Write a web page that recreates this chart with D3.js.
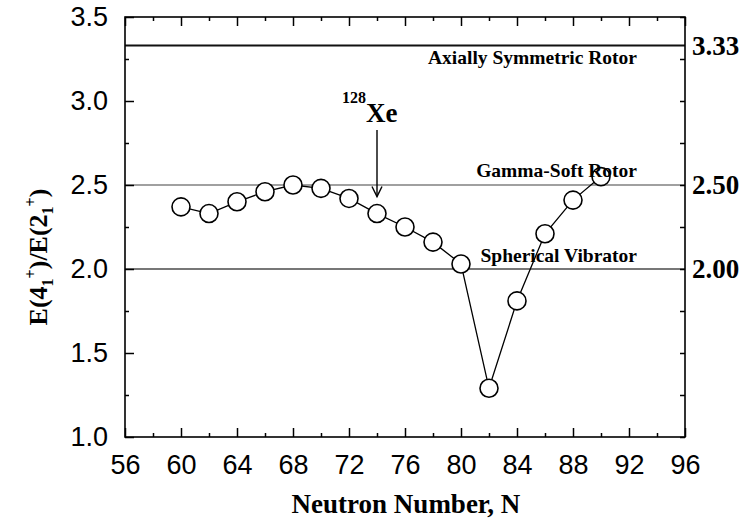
<!DOCTYPE html>
<html>
<head>
<meta charset="utf-8">
<script src="https://cdn.jsdelivr.net/npm/d3@7"></script>
<style>
  html, body { margin: 0; padding: 0; background: #fff; }
  svg { display: block; }
</style>
</head>
<body>
<svg id="chart" width="755" height="522"></svg>
<script>
// R(4/2) energy ratios versus neutron number
const neutronN = [60, 62, 64, 66, 68, 70, 72, 74, 76, 78, 80, 82, 84, 86, 88, 90];
const ratioR42 = [2.37, 2.33, 2.40, 2.46, 2.50, 2.48, 2.42, 2.33, 2.25, 2.16, 2.03, 1.29, 1.81, 2.21, 2.41, 2.55];

// axis ticks
const xMajorTicks = [56, 60, 64, 68, 72, 76, 80, 84, 88, 92, 96];
const xMinorTicks = [58, 62, 66, 70, 74, 78, 82, 86, 90, 94];
const yMajorTicks = [1.0, 1.5, 2.0, 2.5, 3.0, 3.5];
const yMinorTicks = [1.25, 1.75, 2.25, 2.75, 3.25];

// geometric limits of the collective model
const limitValues = [3.33, 2.50, 2.00];
const limitNames = ["Axially Symmetric Rotor", "Gamma-Soft Rotor", "Spherical Vibrator"];
const limitColors = ["#111", "#808080", "#4a4a4a"];

// highlighted nucleus
const markedN = 74;
const markedMass = "128";
const markedSymbol = "Xe";

const svg = d3.select("#chart");
const plotL = 125, plotR = 685, plotT = 17, plotB = 437;

const x = d3.scaleLinear().domain([56, 96]).range([plotL, plotR]);
const y = d3.scaleLinear().domain([1.0, 3.5]).range([plotB, plotT]);

const sans = "'Liberation Sans', Arial, Helvetica, sans-serif";
const serif = "'Liberation Serif', 'Times New Roman', Times, serif";

// reference lines for the limits
svg.append("g").selectAll("line").data(limitValues).join("line")
  .attr("x1", plotL).attr("x2", plotR)
  .attr("y1", d => y(d)).attr("y2", d => y(d))
  .attr("stroke", (d, i) => limitColors[i])
  .attr("stroke-width", (d, i) => i === 0 ? 2 : 1.5);

// tick axes on all four sides
function tickAxis(axisFn, scale, values, size, labels) {
  const a = axisFn(scale).tickValues(values).tickSizeInner(size).tickSizeOuter(0);
  if (!labels) a.tickFormat(() => "");
  return a;
}

const gBottom = svg.append("g").attr("transform", `translate(0,${plotB})`);
gBottom.call(tickAxis(d3.axisBottom, x, xMajorTicks, -9, true).tickPadding(18).tickFormat(d3.format("d")));
gBottom.append("g").call(tickAxis(d3.axisBottom, x, xMinorTicks, -4, false));

const gTop = svg.append("g").attr("transform", `translate(0,${plotT})`);
gTop.call(tickAxis(d3.axisTop, x, xMajorTicks, -9, false));
gTop.append("g").call(tickAxis(d3.axisTop, x, xMinorTicks, -4, false));

const gLeft = svg.append("g").attr("transform", `translate(${plotL},0)`);
gLeft.call(tickAxis(d3.axisLeft, y, yMajorTicks, -9, true).tickPadding(17).tickFormat(d3.format(".1f")));
gLeft.append("g").call(tickAxis(d3.axisLeft, y, yMinorTicks, -4, false));

const gRight = svg.append("g").attr("transform", `translate(${plotR},0)`);
gRight.call(tickAxis(d3.axisRight, y, yMajorTicks, -5, false));
gRight.append("g").call(tickAxis(d3.axisRight, y, yMinorTicks, -5, false));
gRight.append("g").attr("class", "limit-labels")
  .call(d3.axisRight(y).tickValues(limitValues).tickSize(0).tickPadding(7).tickFormat(d3.format(".2f")));

svg.selectAll(".domain").remove();
svg.selectAll(".tick line").attr("stroke", "#000").attr("stroke-width", 1.5);

gBottom.selectAll("text").attr("font-family", sans).attr("font-size", 27).attr("fill", "#000");
gLeft.selectAll("text").attr("font-family", sans).attr("font-size", 27).attr("fill", "#000");
gRight.selectAll("text").attr("font-family", serif).attr("font-weight", "bold").attr("font-size", 27).attr("fill", "#000");

// frame
svg.append("rect")
  .attr("x", plotL).attr("y", plotT)
  .attr("width", plotR - plotL).attr("height", plotB - plotT)
  .attr("fill", "none").attr("stroke", "#000").attr("stroke-width", 1.6);

// data line and markers
const pts = neutronN.map((n, i) => [n, ratioR42[i]]);
svg.append("path")
  .datum(pts)
  .attr("fill", "none")
  .attr("stroke", "#000")
  .attr("stroke-width", 1.3)
  .attr("d", d3.line().x(d => x(d[0])).y(d => y(d[1])));

svg.append("g").selectAll("circle").data(pts).join("circle")
  .attr("cx", d => x(d[0])).attr("cy", d => y(d[1]))
  .attr("r", 9)
  .attr("fill", "#fff")
  .attr("stroke", "#000")
  .attr("stroke-width", 1.6);

// limit names, placed just below / above their lines, on top of the markers
const nameOffset = [18, -8, -7];
svg.append("g").selectAll("text").data(limitNames).join("text")
  .attr("x", 637)
  .attr("y", (d, i) => y(limitValues[i]) + nameOffset[i])
  .attr("text-anchor", "end")
  .attr("font-family", serif)
  .attr("font-weight", "bold")
  .attr("font-size", 19.5)
  .attr("fill", "#000")
  .text(d => d);

// arrow pointing to the marked nucleus
const ax = x(markedN);
const markedValue = ratioR42[neutronN.indexOf(markedN)];
const tipY = y(markedValue) - 17;
svg.append("line")
  .attr("x1", ax).attr("x2", ax)
  .attr("y1", 130).attr("y2", tipY)
  .attr("stroke", "#000").attr("stroke-width", 1.4);
svg.append("path")
  .attr("d", `M${ax - 5},${tipY - 10} L${ax},${tipY} L${ax + 5},${tipY - 10}`)
  .attr("fill", "none").attr("stroke", "#000").attr("stroke-width", 1.4);

const lbl = svg.append("text")
  .attr("x", ax - 35).attr("y", 122)
  .attr("font-family", serif).attr("font-weight", "bold").attr("fill", "#000");
lbl.append("tspan").attr("font-size", 16).attr("dy", -19).text(markedMass);
lbl.append("tspan").attr("font-size", 27).attr("dy", 19).text(markedSymbol);

// axis titles
svg.append("text")
  .attr("x", (plotL + plotR) / 2 + 1).attr("y", 513)
  .attr("text-anchor", "middle")
  .attr("font-family", serif).attr("font-weight", "bold").attr("font-size", 27)
  .attr("fill", "#000")
  .text("Neutron Number, N");

const yt = svg.append("text")
  .attr("transform", `translate(47,${(plotT + plotB) / 2 + 30}) rotate(-90)`)
  .attr("text-anchor", "middle")
  .attr("font-family", serif).attr("font-weight", "bold").attr("font-size", 26)
  .attr("fill", "#000");
yt.append("tspan").text("E(4");
yt.append("tspan").attr("font-size", 16).attr("dy", 6).text("1");
yt.append("tspan").attr("font-size", 16).attr("dy", -17).text("+");
yt.append("tspan").attr("dy", 11).text(")/E(2");
yt.append("tspan").attr("font-size", 16).attr("dy", 6).text("1");
yt.append("tspan").attr("font-size", 16).attr("dy", -17).text("+");
yt.append("tspan").attr("dy", 11).text(")");
</script>
</body>
</html>
